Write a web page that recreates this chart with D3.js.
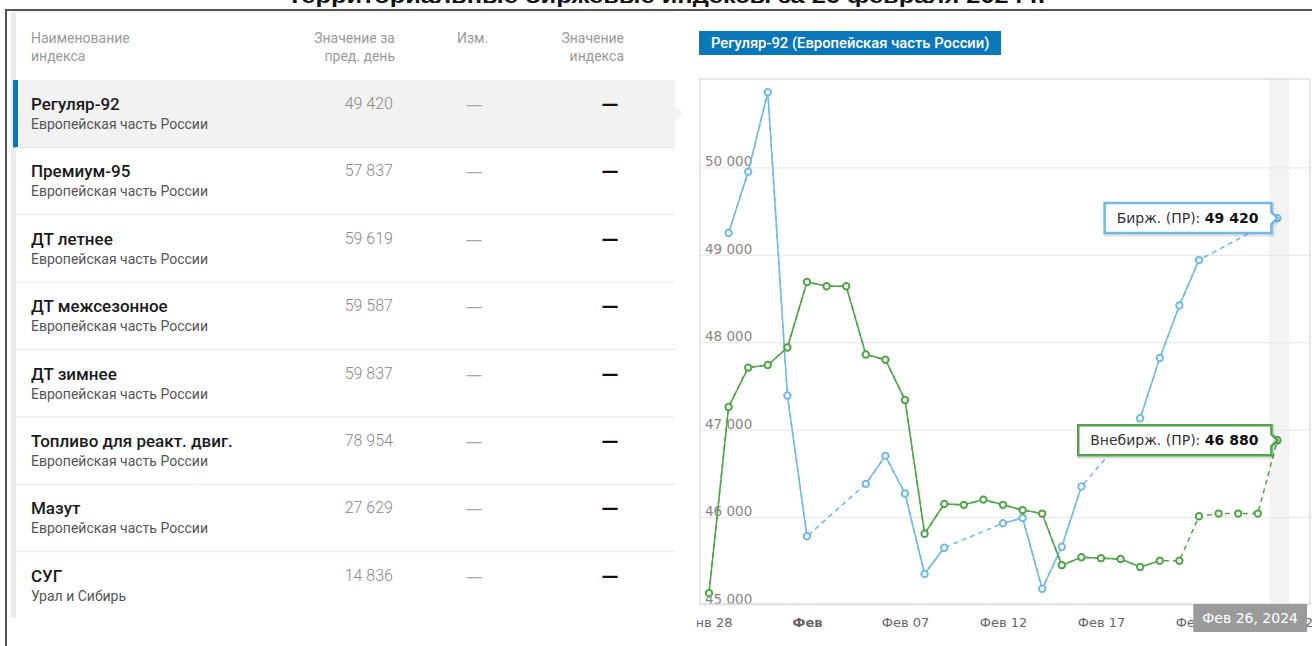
<!DOCTYPE html>
<html>
<head>
<meta charset="utf-8">
<script src="https://cdn.jsdelivr.net/npm/d3@7"></script>
<style>
  body { margin: 0; background: #fff; }
  svg { display: block; }
  .tbl text { font-family: Roboto, "Noto Sans", sans-serif; }
  .chart text { font-family: "DejaVu Sans", Verdana, sans-serif; }
  .title { font-family: "Liberation Sans", Arial, sans-serif; font-weight: bold; }
</style>
</head>
<body>
<script>
// ---- data ----
const titleText = 'Территориальные биржевые индексы за 26 февраля 2024 г.';
const chartTitle = 'Регуляр-92 (Европейская часть России)';

const headerName = ['Наименование', 'индекса'];
const headerPrev = ['Значение за', 'пред. день'];
const headerChange = ['Изм.'];
const headerValue = ['Значение', 'индекса'];

const indexNames = ['Регуляр-92', 'Премиум-95', 'ДТ летнее', 'ДТ межсезонное', 'ДТ зимнее',
  'Топливо для реакт. двиг.', 'Мазут', 'СУГ'];
const regions = ['Европейская часть России', 'Европейская часть России', 'Европейская часть России',
  'Европейская часть России', 'Европейская часть России', 'Европейская часть России',
  'Европейская часть России', 'Урал и Сибирь'];
const prevValues = [49420, 57837, 59619, 59587, 59837, 78954, 27629, 14836];

const dates = ['2024-01-28', '2024-01-29', '2024-01-30', '2024-01-31', '2024-02-01', '2024-02-02',
  '2024-02-03', '2024-02-04', '2024-02-05', '2024-02-06', '2024-02-07', '2024-02-08', '2024-02-09',
  '2024-02-10', '2024-02-11', '2024-02-12', '2024-02-13', '2024-02-14', '2024-02-15', '2024-02-16',
  '2024-02-17', '2024-02-18', '2024-02-19', '2024-02-20', '2024-02-21', '2024-02-22', '2024-02-23',
  '2024-02-24', '2024-02-25', '2024-02-26'];

// Бирж. (ПР)
const exchange = [null, 49250, 49950, 50860, 47390, 45780, null, null, 46380, 46700, 46270, 45350,
  45650, null, null, 45930, 45990, 45180, 45660, 46350, null, null, 47130, 47820, 48420, 48940,
  null, null, null, 49420];
// Внебирж. (ПР)
const offExchange = [45130, 47260, 47710, 47740, 47940, 48690, 48640, 48640, 47860, 47800, 47340,
  45810, 46150, 46140, 46200, 46140, 46080, 46040, 45450, 45540, 45530, 45520, 45430, 45500, 45500,
  46010, 46040, 46040, 46040, 46880];
const offExchangeEstimated = ['2024-02-21', '2024-02-22', '2024-02-23', '2024-02-24', '2024-02-25'];

const yTicks = [45000, 46000, 47000, 48000, 49000, 50000];
const xTickDates = ['2024-01-28', '2024-02-02', '2024-02-07', '2024-02-12', '2024-02-17', '2024-02-22', '2024-02-27'];
const xTickLabels = ['Янв 28', 'Фев', 'Фев 07', 'Фев 12', 'Фев 17', 'Фев 22', 'Фев 27'];

const seriesNames = ['Бирж. (ПР)', 'Внебирж. (ПР)'];
const blue = '#6fbbe4';
const green = '#4ea647';

// ---- helpers ----
const parse = d3.timeParse('%Y-%m-%d');
const ru = d3.formatLocale({ decimal: ',', thousands: ' ', grouping: [3], currency: ['', ' ₽'] });
const fmt = ru.format(',d');
const ruTime = d3.timeFormatLocale({
  dateTime: '%A, %e %B %Y г. %X', date: '%d.%m.%Y', time: '%H:%M:%S', periods: ['AM', 'PM'],
  days: ['воскресенье', 'понедельник', 'вторник', 'среда', 'четверг', 'пятница', 'суббота'],
  shortDays: ['вс', 'пн', 'вт', 'ср', 'чт', 'пт', 'сб'],
  months: ['январь', 'февраль', 'март', 'апрель', 'май', 'июнь', 'июль', 'август', 'сентябрь', 'октябрь', 'ноябрь', 'декабрь'],
  shortMonths: ['Янв', 'Фев', 'Мар', 'Апр', 'Май', 'Июн', 'Июл', 'Авг', 'Сен', 'Окт', 'Ноя', 'Дек']
});
const tipDate = ruTime.format('%b %d, %Y');

const W = 1312, H = 646;
const svg = d3.select('body').append('svg').attr('width', W).attr('height', H);

// ---- page frame and cut title ----
svg.append('text').attr('class', 'title')
  .attr('x', 287).attr('y', 3)
  .attr('textLength', 758).attr('lengthAdjust', 'spacingAndGlyphs')
  .style('font-size', '21px').style('fill', '#111')
  .text(titleText);
svg.append('line').attr('x1', 5).attr('x2', W).attr('y1', 10).attr('y2', 10)
  .attr('stroke', '#555').attr('stroke-width', 2);
svg.append('line').attr('x1', 6).attr('x2', 6).attr('y1', 9).attr('y2', H)
  .attr('stroke', '#555').attr('stroke-width', 2);

// ---- table ----
const tbl = svg.append('g').attr('class', 'tbl');
const rows = d3.scaleBand().domain(indexNames).range([80, 619]);

tbl.append('rect').attr('x', 11).attr('y', 12).attr('width', 5).attr('height', 606).attr('fill', '#ececec');
tbl.append('line').attr('x1', 11).attr('x2', 675).attr('y1', 12).attr('y2', 12).attr('stroke', '#ececec');

function headerLines(lines, x, anchor) {
  tbl.append('g').selectAll('text').data(lines).join('text')
    .attr('x', x).attr('y', (d, i) => 43 + i * 18)
    .attr('text-anchor', anchor)
    .style('font-size', '14px').style('fill', '#9a9a9a')
    .text(d => d);
}
headerLines(headerName, 31, 'start');
headerLines(headerPrev, 395, 'end');
headerLines(headerChange, 457, 'start');
headerLines(headerValue, 624, 'end');

// highlighted first row
const r0 = rows(indexNames[0]);
tbl.append('rect').attr('x', 16).attr('y', r0).attr('width', 659).attr('height', rows.bandwidth()).attr('fill', '#f2f2f2');
tbl.append('rect').attr('x', 13).attr('y', r0).attr('width', 5).attr('height', rows.bandwidth()).attr('fill', '#0a78b8');
tbl.append('path').attr('d', `M675,${r0 + 26}L683,${r0 + 33}L675,${r0 + 40}Z`).attr('fill', '#f2f2f2');

const row = tbl.selectAll('g.row').data(indexNames).join('g').attr('class', 'row')
  .attr('transform', d => `translate(0,${rows(d)})`);
row.filter((d, i) => i > 0).append('line')
  .attr('x1', 16).attr('x2', 675).attr('y1', 0).attr('y2', 0).attr('stroke', '#e9e9e9');
row.append('text').attr('x', 31).attr('y', 30)
  .style('font-size', '17px').style('font-weight', 500).style('fill', '#1a1a1a')
  .text(d => d);
row.append('text').attr('x', 31).attr('y', 49)
  .style('font-size', '14px').style('fill', '#555')
  .text((d, i) => regions[i]);
row.append('text').attr('x', 393).attr('y', 29).attr('text-anchor', 'end')
  .style('font-size', '16px').style('font-weight', 300).style('fill', '#888')
  .text((d, i) => fmt(prevValues[i]));
row.append('text').attr('x', 474).attr('y', 30).attr('text-anchor', 'middle')
  .style('font-family', '"DejaVu Sans", sans-serif')
  .style('font-size', '17px').style('fill', '#a8a8a8')
  .text('—');
row.append('text').attr('x', 610).attr('y', 30).attr('text-anchor', 'middle')
  .style('font-family', '"DejaVu Sans", sans-serif')
  .style('font-size', '17px').style('font-weight', 'bold').style('fill', '#111')
  .text('—');

// ---- chart ----
const chart = svg.append('g').attr('class', 'chart');

const badge = chart.append('g');
badge.append('rect').attr('x', 699).attr('y', 31).attr('width', 302).attr('height', 24).attr('fill', '#0a78b8');
badge.append('text').attr('x', 711).attr('y', 48)
  .style('font-family', 'Roboto, sans-serif').style('font-size', '14.8px').style('font-weight', 500)
  .style('fill', '#fff').text(chartTitle);

const plot = { left: 700, top: 79, right: 1310, bottom: 604 };
const x = d3.scaleTime().domain([parse(dates[0]), parse(dates[dates.length - 1])]).range([709, 1277.4]);
const y = d3.scaleLinear().domain([45000, 51000]).range([604.5, 80]);

// hover band at last point
const lastX = x(parse(dates[dates.length - 1]));
chart.append('rect').attr('x', lastX - 8).attr('y', plot.top).attr('width', 20)
  .attr('height', plot.bottom - plot.top).attr('fill', '#f3f3f3');

// y grid + labels
const yAxis = d3.axisRight(y).tickValues(yTicks).tickSize(plot.right - plot.left).tickFormat(fmt);
const yg = chart.append('g').attr('transform', `translate(${plot.left},0)`).call(yAxis);
yg.select('.domain').remove();
yg.selectAll('line').attr('stroke', '#e6e6e6');
yg.selectAll('text').attr('x', 5).attr('dy', '-1.5').attr('text-anchor', 'start')
  .style('font-size', '13.5px').style('fill', '#8a8580');

// x grid + labels
chart.append('clipPath').attr('id', 'xclip').append('rect')
  .attr('x', 697).attr('y', 0).attr('width', W - 697).attr('height', H);
const xAxis = d3.axisBottom(x).tickValues(xTickDates.map(parse))
  .tickSize(-(plot.bottom - plot.top)).tickPadding(14)
  .tickFormat((d, i) => xTickLabels[i]);
const xg = chart.append('g').attr('transform', `translate(0,${plot.bottom})`)
  .attr('clip-path', 'url(#xclip)').call(xAxis);
xg.select('.domain').remove();
xg.selectAll('line').attr('stroke', '#e6e6e6');
xg.selectAll('text').style('font-size', '13px').style('fill', '#666')
  .style('font-weight', (d, i) => xTickLabels[i] === 'Фев' ? 'bold' : 'normal');

chart.append('rect').attr('x', plot.left).attr('y', plot.top)
  .attr('width', plot.right - plot.left).attr('height', plot.bottom - plot.top)
  .attr('fill', 'none').attr('stroke', '#cfcfcf');

// series
const blueData = dates.map((d, i) => ({ date: parse(d), v: exchange[i] }));
const greenData = dates.map((d, i) => ({ date: parse(d), v: offExchange[i], est: offExchangeEstimated.includes(d) }));

const line = d3.line().x(d => x(d.date)).y(d => y(d.v));

function drawSeries(data, color, solidDefined) {
  const g = chart.append('g');
  g.append('path').attr('d', line(data.filter(d => d.v != null)))
    .attr('fill', 'none').attr('stroke', color).attr('stroke-width', 1.5).attr('stroke-dasharray', '5,4');
  g.append('path').attr('d', line.defined(solidDefined)(data))
    .attr('fill', 'none').attr('stroke', color).attr('stroke-width', 1.5);
  line.defined(() => true);
  g.selectAll('circle').data(data.filter(d => d.v != null)).join('circle')
    .attr('cx', d => x(d.date)).attr('cy', d => y(d.v)).attr('r', 3.2)
    .attr('fill', '#fff').attr('stroke', color).attr('stroke-width', 2);
}
drawSeries(blueData, blue, d => d.v != null);
drawSeries(greenData, green, d => !d.est);

// tooltips at the last point
function callout(label, value, color, py) {
  const g = chart.append('g');
  const t = g.append('text').attr('y', py + 5).style('font-size', '14px').style('fill', '#333');
  t.append('tspan').text(label + ': ');
  t.append('tspan').style('font-weight', 'bold').style('fill', '#111').text(fmt(value));
  const tw = t.node().getComputedTextLength();
  const right = lastX - 6, left = right - tw - 25, top = py - 15, bottom = py + 15;
  t.attr('x', left + 12);
  const d = `M${left},${top}H${right}V${py - 6}L${lastX},${py}L${right},${py + 6}V${bottom}H${left}Z`;
  g.insert('path', 'text').attr('d', d).attr('transform', 'translate(1,1.5)')
    .attr('fill', 'none').attr('stroke', 'rgba(0,0,0,0.12)').attr('stroke-width', 4);
  g.insert('path', 'text').attr('d', d).attr('fill', '#fff').attr('stroke', color).attr('stroke-width', 2.5);
}
const li = dates.length - 1;
callout(seriesNames[0], exchange[li], blue, y(exchange[li]));
callout(seriesNames[1], offExchange[li], green, y(offExchange[li]));

// date label on x axis
const dl = chart.append('g');
const dt = dl.append('text').attr('y', 623).attr('text-anchor', 'middle')
  .style('font-size', '14px').style('fill', '#fff').text(tipDate(parse(dates[li])));
const dw = dt.node().getComputedTextLength() + 18;
dl.insert('rect', 'text').attr('x', 1307 - dw).attr('y', 604).attr('width', dw).attr('height', 28).attr('fill', '#9b9b9b');
dt.attr('x', 1307 - dw / 2);
</script>
</body>
</html>
